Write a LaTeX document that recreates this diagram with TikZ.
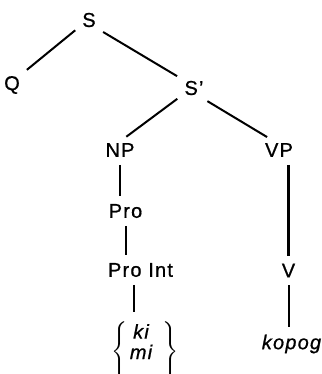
\documentclass[tikz,border=0pt]{standalone}
\usepackage{fontspec}
\setmainfont{Liberation Sans}[LetterSpace=6, FakeBold=0.8]
\usepackage{amsmath}

\begin{document}
\begin{tikzpicture}[
		x=0.5pt, y=-0.5pt,
		cat/.style={inner sep=2pt, outer sep=0pt, font=\fontsize{10}{12}\selectfont},
		word/.style={cat, font=\fontsize{10}{12}\selectfont\itshape},
		branch/.style={line width=1pt, shorten <=2pt, shorten >=2pt}
	]

	\useasboundingbox (0,0) rectangle (321,374);

	\node[cat] (s) at (89,20) {S};
	\node[cat] (q) at (12,85) {Q};
	\node[cat] (sbar) at (194,88) {S'};

	\node[cat] (np) at (120,150) {NP};
	\node[cat] (vp) at (279,150) {VP};

	\node[cat] (pro) at (125.5,211) {Pro};
	\node[cat] (proint) at (140.5,270) {Pro Int};
	\node[cat] (kimi) at (145,352) {$\left\{\vrule height 18.5pt depth 13.5pt width 0pt\hspace{1pt}\raisebox{3.7pt}{\fontsize{10}{10}\selectfont\itshape\begin{tabular}{@{}c@{}}ki\\mi\end{tabular}}\hspace{5pt}\right\}$};

	\node[cat] (v) at (288.5,270.5) {V};
	\node[word] (kopog) at (291.5,344) {kopog};

	\draw[branch] (s.216) -- (q.47);
	\draw[branch] (s.317) -- (sbar.144);
	\draw[branch] (sbar.212) -- (np.74);
	\draw[branch] (sbar.312) -- (vp.128);

	\draw[branch] (np.south) -- (np.south |- pro.north);
	\draw[branch] (pro.south) -- (pro.south |- proint.north);
	\draw[branch] ([xshift=-3.5pt]proint.south) -- ([xshift=-3.5pt]proint.south |- kimi.north);

	\draw[branch, line width=1.4pt] (vp.south -| v) -- (v.north);
	\draw[branch] (v.south) -- (v.south |- kopog.north);
\end{tikzpicture}
\end{document}
